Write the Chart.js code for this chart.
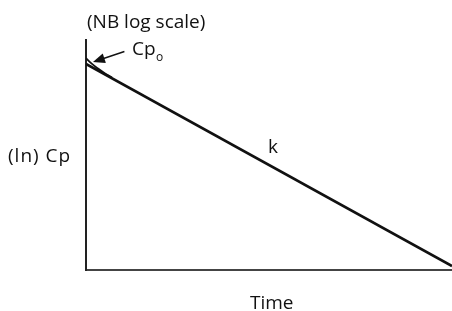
<!DOCTYPE html>
<html>
<head>
<meta charset="utf-8">
<script src="https://cdn.jsdelivr.net/npm/chart.js@4.4.1/dist/chart.umd.min.js"></script>
<style>
html,body{margin:0;padding:0;background:#fff;}
#wrap{width:452px;height:311px;position:relative;}
</style>
</head>
<body>
<div id="wrap"><canvas id="c" width="452" height="311"></canvas></div>
<script>
// Time axis values and ln Cp values (arbitrary units)
const timePoints = [0, 10];
const lnCpLine = [8.96, 0.17];
const curveTime = [0, 0.164, 0.328, 0.492, 0.71];
const curveLnCp = [9.21, 8.96, 8.76, 8.58, 8.37];
const arrowFrom = [1.05, 9.5];
const arrowTo = [0.19, 9.04];
const labels = {
  title: "(NB log scale)",
  yTitle: "(ln) Cp",
  xTitle: "Time",
  slope: "k",
  c0: "Cp",
  c0sub: "o"
};

const FONT = "'Open Sans', Lato, sans-serif";

const annot = {
  id: 'annot',
  afterDatasetsDraw(chart) {
    const ctx = chart.ctx;
    const xs = chart.scales.x, ys = chart.scales.y;
    ctx.save();
    ctx.fillStyle = '#111';
    ctx.textBaseline = 'alphabetic';
    ctx.textAlign = 'left';
    ctx.font = '19px ' + FONT;
    ctx.fillText(labels.title, 87, 28);
    ctx.fillText(labels.slope, 268, 153);
    ctx.fillText(labels.xTitle, 250, 309);
    ctx.letterSpacing = '1px';
    ctx.fillText(labels.yTitle, 8, 162);
    ctx.letterSpacing = '0px';
    ctx.font = '19px ' + FONT;
    ctx.fillText(labels.c0, 132, 55);
    const w = ctx.measureText(labels.c0).width;
    ctx.font = '12px ' + FONT;
    ctx.fillText(labels.c0sub, 132 + w + 0.5, 61);
    // arrow
    const x1 = xs.getPixelForValue(arrowFrom[0]), y1 = ys.getPixelForValue(arrowFrom[1]);
    const x2 = xs.getPixelForValue(arrowTo[0]), y2 = ys.getPixelForValue(arrowTo[1]);
    const ang = Math.atan2(y2 - y1, x2 - x1);
    const L = 12, W = 5;
    ctx.strokeStyle = '#111';
    ctx.lineWidth = 1.4;
    ctx.beginPath();
    ctx.moveTo(x1, y1);
    ctx.lineTo(x2 - Math.cos(ang) * L * 0.8, y2 - Math.sin(ang) * L * 0.8);
    ctx.stroke();
    ctx.beginPath();
    ctx.moveTo(x2, y2);
    ctx.lineTo(x2 - Math.cos(ang) * L - Math.sin(ang) * W, y2 - Math.sin(ang) * L + Math.cos(ang) * W);
    ctx.lineTo(x2 - Math.cos(ang) * L + Math.sin(ang) * W, y2 - Math.sin(ang) * L - Math.cos(ang) * W);
    ctx.closePath();
    ctx.fill();
    ctx.restore();
  }
};

new Chart(document.getElementById('c'), {
  type: 'scatter',
  data: {
    datasets: [
      {
        data: timePoints.map((t, i) => ({x: t, y: lnCpLine[i]})),
        showLine: true,
        borderColor: '#111',
        borderWidth: 2.6,
        pointRadius: 0,
        fill: false
      },
      {
        data: curveTime.map((t, i) => ({x: t, y: curveLnCp[i]})),
        showLine: true,
        borderColor: '#111',
        borderWidth: 1.8,
        pointRadius: 0,
        tension: 0.4,
        fill: false
      }
    ]
  },
  options: {
    responsive: false,
    animation: false,
    devicePixelRatio: 1,
    layout: {padding: {left: 86, top: 40, right: 0, bottom: 41}},
    plugins: {legend: {display: false}, tooltip: {enabled: false}},
    scales: {
      x: {
        type: 'linear', min: 0, max: 10,
        ticks: {display: false},
        grid: {display: true, drawOnChartArea: false, drawTicks: false},
        border: {display: true, color: '#444', width: 2}
      },
      y: {
        type: 'linear', min: 0, max: 10,
        ticks: {display: false},
        grid: {display: true, drawOnChartArea: false, drawTicks: false},
        border: {display: true, color: '#222', width: 2}
      }
    }
  },
  plugins: [annot]
});
</script>
</body>
</html>
